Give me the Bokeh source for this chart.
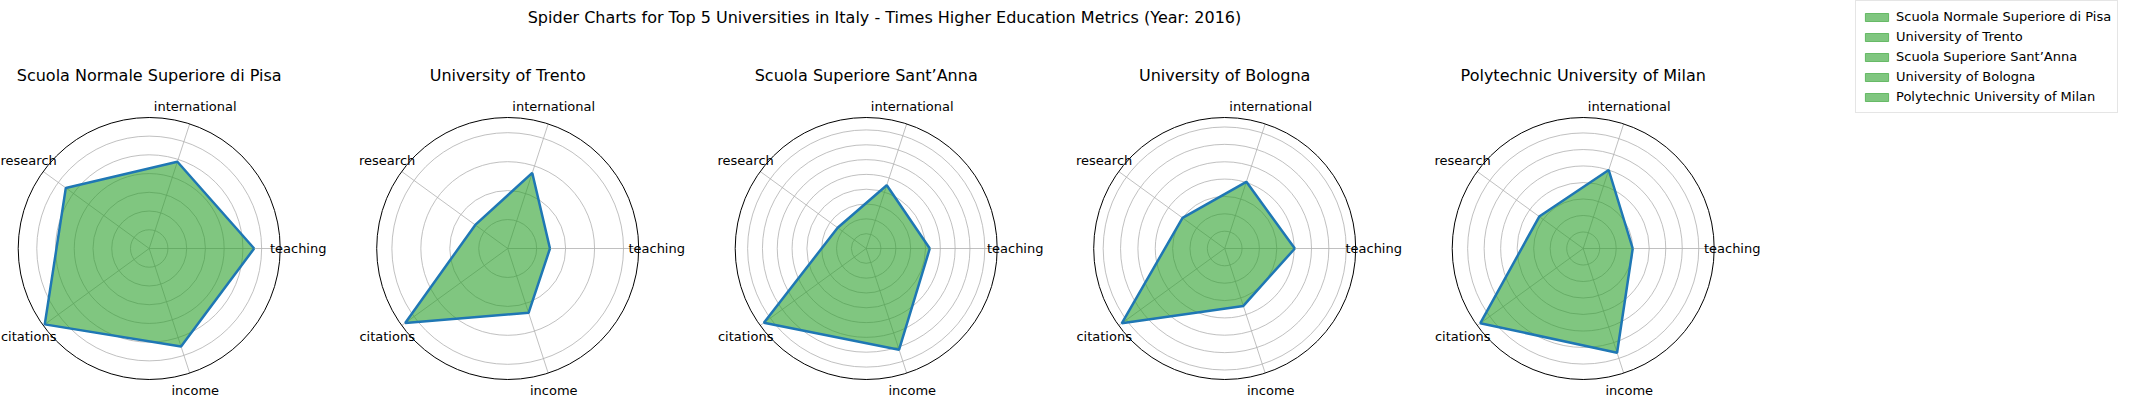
import numpy as np
from bokeh.plotting import figure
from bokeh.models import Range1d, Legend, LegendItem, Label
from bokeh.embed import file_html
from bokeh.resources import INLINE

universities = ["Scuola Normale Superiore di Pisa", "University of Trento",
                "Scuola Superiore Sant\u2019Anna", "University of Bologna",
                "Polytechnic University of Milan"]
metrics = ["teaching", "international", "research", "citations", "income"]
teaching = [56.0, 29.2, 42.9, 40.4, 30.0]
international = [48.7, 54.9, 44.9, 40.4, 50.0]
research = [55.0, 27.7, 23.8, 30.0, 32.9]
citations = [68.9, 87.5, 85.3, 73.3, 77.0]
income = [55.0, 46.7, 71.8, 34.8, 66.4]
ring_step = [10, 20, 10, 10, 10]

W, H = 2137, 401
p = figure(width=W, height=H, output_backend="svg", toolbar_location=None,
           x_range=Range1d(8, 8 + W), y_range=Range1d(8 + H, 8),
           min_border=0, outline_line_color=None)
p.axis.visible = False
p.grid.visible = False

FONT = "DejaVu Sans"
R = 131.0
CY = 256.0
theta = 2 * np.pi * np.arange(5) / 5
legend_items = []

for i, name in enumerate(universities):
    cx = 156.7 + 358.5 * i
    vals = np.array([teaching[i], international[i], research[i], citations[i], income[i]])
    rmax = vals.max() + 0.05 * (vals.max() - vals.min())
    s = R / rmax
    k = ring_step[i]
    while k < rmax:
        p.circle([cx], [CY], radius=k * s, fill_color=None, line_color="#b0b0b0", line_width=0.8)
        k += ring_step[i]
    for t in theta:
        p.line([cx, cx + R * np.cos(t)], [CY, CY - R * np.sin(t)], line_color="#b0b0b0", line_width=0.8)
    p.circle([cx], [CY], radius=R, fill_color=None, line_color="black", line_width=1)
    xs = list(cx + vals * s * np.cos(theta)) + [cx + vals[0] * s]
    ys = list(CY - vals * s * np.sin(theta)) + [CY]
    r = p.patch(xs, ys, fill_color="#2ca02c", fill_alpha=0.6,
                line_color="#2ca02c", line_alpha=0.6, line_width=1)
    p.line(xs, ys, line_color="#1f77b4", line_width=2.5)
    legend_items.append(LegendItem(label=name, renderers=[r]))
    for m, t in zip(metrics, theta):
        p.add_layout(Label(x=cx + 149 * np.cos(t), y=CY - 149 * np.sin(t), text=m,
                           text_align="center", text_baseline="middle",
                           text_font=FONT, text_font_size="13px", text_color="black"))
    p.add_layout(Label(x=cx, y=83, text=name, text_align="center", text_baseline="middle",
                       text_font=FONT, text_font_size="16px", text_color="black"))

p.add_layout(Label(x=892, y=25, text="Spider Charts for Top 5 Universities in Italy - Times Higher Education Metrics (Year: 2016)",
                   text_align="center", text_baseline="middle",
                   text_font=FONT, text_font_size="16px", text_color="black"))

legend = Legend(items=legend_items, location=(1855, 288), orientation="vertical",
                label_text_font=FONT, label_text_font_size="13px", label_text_color="black",
                label_height=19, glyph_width=29, glyph_height=10, spacing=1, padding=6, margin=0,
                border_line_color="#cccccc", background_fill_alpha=1.0)
p.add_layout(legend, "center")

open("out.html", "w").write(file_html(p, INLINE))
